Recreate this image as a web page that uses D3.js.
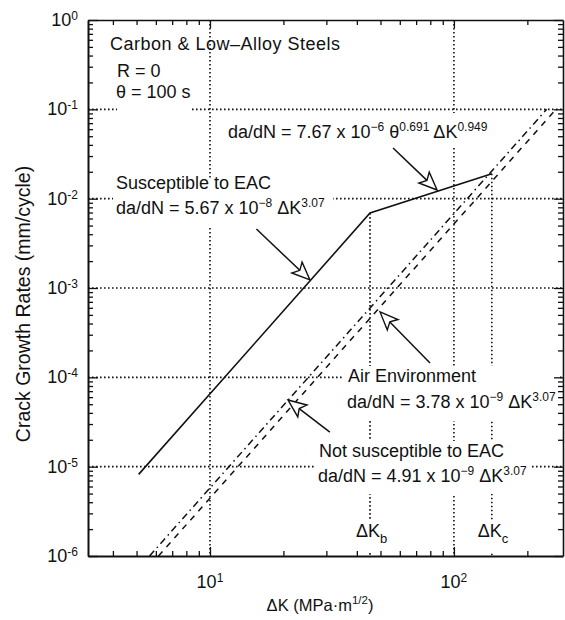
<!DOCTYPE html>
<html><head><meta charset="utf-8">
<script src="https://cdn.jsdelivr.net/npm/d3@7"></script>
<style>
body{margin:0;background:#fff}
text{font-family:"Liberation Sans",Arial,Helvetica,sans-serif;fill:#111}
</style>
</head><body>
<svg id="c" width="565" height="620"></svg>
<script>
// ---------------- data ----------------
const xDomain = [3.162, 280];          // ΔK (MPa·m^1/2)
const yDomain = [1e-6, 1];             // da/dN (mm/cycle)
const xMajorTicks = [10, 100];
const xMajorExps = ["1", "2"];
const yMajorTicks = [1, 1e-1, 1e-2, 1e-3, 1e-4, 1e-5, 1e-6];
const yMajorExps = ["0", "-1", "-2", "-3", "-4", "-5", "-6"];

// Susceptible to EAC (solid, with knee at ΔKb and end at ΔKc)
const eacK    = [5.1, 45.3, 143];
const eacRate = [8.2e-6, 6.9e-3, 0.019];
// Not susceptible to EAC (dash-dot)
const notK    = [5.65, 240];
const notRate = [1e-6, 0.1];
// Air environment (dashed)
const airK    = [6.15, 262];
const airRate = [1e-6, 0.1];
// ΔKb, ΔKc markers
const markerK    = [45.3, 143];
const markerTop  = [6.9e-3, 0.019];
const markerName = ["b", "c"];

// arrows (data coordinates: tail -> tip)
const arrowTailK    = [56.3, 15.5, 79.8, 31.0];
const arrowTailRate = [0.0369, 4.57e-3, 1.45e-4, 2.44e-5];
const arrowTipK     = [85.3, 25.7, 49.8, 20.9];
const arrowTipRate  = [0.0125, 1.23e-3, 5.4e-4, 5.57e-5];

// ---------------- layout ----------------
const L = 88, R = 563, T = 20, B = 556;
const svg = d3.select("#c");
const x = d3.scaleLog().domain(xDomain).range([L, R]);
const y = d3.scaleLog().domain(yDomain).range([B, T]);
const FS = 18, SUP = 12;

// minor tick values
const xMinor = [], yMinor = [];
[1, 10, 100].forEach(d => { for (let m = 2; m <= 9; m++) { const v = d * m; if (v > xDomain[0] && v < xDomain[1] && !xMajorTicks.includes(v)) xMinor.push(v); } });
[1e-6, 1e-5, 1e-4, 1e-3, 1e-2, 1e-1].forEach(d => { for (let m = 2; m <= 9; m++) yMinor.push(d * m); });

// ---------------- grid ----------------
const gGrid = svg.append("g").attr("stroke", "#111").attr("stroke-width", 1.6).attr("stroke-dasharray", "1.6,2.4");
gGrid.selectAll(".gy").data(yMajorTicks.slice(1, 6)).join("line")
  .attr("x1", L).attr("x2", R).attr("y1", d => y(d)).attr("y2", d => y(d));
gGrid.selectAll(".gx").data(xMajorTicks).join("line")
  .attr("y1", T).attr("y2", B).attr("x1", d => x(d)).attr("x2", d => x(d));
gGrid.selectAll(".mk").data(markerK).join("line")
  .attr("x1", d => x(d)).attr("x2", d => x(d))
  .attr("y1", (d, i) => y(markerTop[i])).attr("y2", B);

// ---------------- text masks ----------------
const masks = [
  [117, 58, 75, 54],
  [226, 113, 270, 34],
  [113, 178, 220, 48],
  [343, 366, 217, 55],
  [314, 441, 217, 53],
  [353, 520, 38, 32],
  [473, 520, 36, 32]
];
svg.append("g").selectAll("rect").data(masks).join("rect")
  .attr("x", d => d[0]).attr("y", d => d[1]).attr("width", d => d[2]).attr("height", d => d[3])
  .attr("fill", "#fff");

// ---------------- axes ----------------
function styleAxis(g, w) {
  g.select(".domain").attr("stroke", "#111").attr("stroke-width", w);
  g.selectAll(".tick line").attr("stroke", "#111").attr("stroke-width", 1.3);
  g.selectAll(".tick text").remove();
}
svg.append("g").attr("transform", `translate(0,${B})`)
  .call(d3.axisBottom(x).tickValues(xMajorTicks).tickSize(-9).tickSizeOuter(0).tickFormat(""))
  .call(g => styleAxis(g, 2));
svg.append("g").attr("transform", `translate(0,${B})`)
  .call(d3.axisBottom(x).tickValues(xMinor).tickSize(-5).tickSizeOuter(0).tickFormat(""))
  .call(g => { styleAxis(g, 2); g.select(".domain").remove(); });
svg.append("g").attr("transform", `translate(0,${T})`)
  .call(d3.axisTop(x).tickValues(xMajorTicks).tickSize(-8).tickSizeOuter(0).tickFormat(""))
  .call(g => styleAxis(g, 1.6));
svg.append("g").attr("transform", `translate(0,${T})`)
  .call(d3.axisTop(x).tickValues(xMinor).tickSize(-5).tickSizeOuter(0).tickFormat(""))
  .call(g => { styleAxis(g, 1.6); g.select(".domain").remove(); });
svg.append("g").attr("transform", `translate(${L},0)`)
  .call(d3.axisLeft(y).tickValues(yMajorTicks).tickSize(-10).tickSizeOuter(0).tickFormat(""))
  .call(g => styleAxis(g, 2));
svg.append("g").attr("transform", `translate(${L},0)`)
  .call(d3.axisLeft(y).tickValues(yMinor).tickSize(-5).tickSizeOuter(0).tickFormat(""))
  .call(g => { styleAxis(g, 2); g.select(".domain").remove(); });
svg.append("g").attr("transform", `translate(${R},0)`)
  .call(d3.axisRight(y).tickValues(yMajorTicks).tickSize(-9).tickSizeOuter(0).tickFormat(""))
  .call(g => styleAxis(g, 1.6));
svg.append("g").attr("transform", `translate(${R},0)`)
  .call(d3.axisRight(y).tickValues(yMinor).tickSize(-5).tickSizeOuter(0).tickFormat(""))
  .call(g => { styleAxis(g, 1.6); g.select(".domain").remove(); });

// tick labels
yMajorTicks.forEach((v, i) => {
  const t = svg.append("text").attr("x", 78).attr("y", y(v) + 6).attr("text-anchor", "end").attr("font-size", FS);
  t.append("tspan").text("10");
  t.append("tspan").attr("dy", -6).attr("font-size", SUP).text(yMajorExps[i]);
});
xMajorTicks.forEach((v, i) => {
  const t = svg.append("text").attr("x", x(v)).attr("y", 588).attr("text-anchor", "middle").attr("font-size", FS);
  t.append("tspan").text("10");
  t.append("tspan").attr("dy", -6).attr("font-size", SUP).text(xMajorExps[i]);
});

// axis titles
svg.append("text").attr("transform", "translate(30,304) rotate(-90)").attr("text-anchor", "middle")
  .attr("font-size", 19.5).text("Crack Growth Rates (mm/cycle)");
{
  const t = svg.append("text").attr("x", 320).attr("y", 611).attr("text-anchor", "middle").attr("font-size", 16.5);
  t.append("tspan").text("ΔK (MPa·m");
  t.append("tspan").attr("dy", -7).attr("font-size", 11.5).text("1/2");
  t.append("tspan").attr("dy", 7).text(")");
}

// ---------------- data lines ----------------
const line = d3.line().x(d => x(d[0])).y(d => y(d[1]));
svg.append("path").datum(eacK.map((k, i) => [k, eacRate[i]])).attr("d", line)
  .attr("fill", "none").attr("stroke", "#111").attr("stroke-width", 1.6);
svg.append("path").datum(notK.map((k, i) => [k, notRate[i]])).attr("d", line)
  .attr("fill", "none").attr("stroke", "#111").attr("stroke-width", 1.5).attr("stroke-dasharray", "7,4,1.5,4");
svg.append("path").datum(airK.map((k, i) => [k, airRate[i]])).attr("d", line)
  .attr("fill", "none").attr("stroke", "#111").attr("stroke-width", 1.5).attr("stroke-dasharray", "6,6");

// ---------------- arrows ----------------
arrowTipK.forEach((k, i) => {
  const x0 = x(arrowTailK[i]), y0 = y(arrowTailRate[i]);
  const x1 = x(k), y1 = y(arrowTipRate[i]);
  const dx = x1 - x0, dy = y1 - y0, len = Math.hypot(dx, dy);
  const ux = dx / len, uy = dy / len, hl = 18, hw = 7.5;
  const bx = x1 - ux * hl, by = y1 - uy * hl;
  svg.append("line").attr("x1", x0).attr("y1", y0).attr("x2", bx + ux * 4).attr("y2", by + uy * 4)
    .attr("stroke", "#111").attr("stroke-width", 1.5);
  svg.append("path")
    .attr("d", `M${x1},${y1}L${bx - uy * hw},${by + ux * hw}L${bx + ux * 4},${by + uy * 4}L${bx + uy * hw},${by - ux * hw}Z`)
    .attr("fill", "#fff").attr("stroke", "#111").attr("stroke-width", 1.4).attr("stroke-linejoin", "miter");
});

// ---------------- annotations ----------------
function rich(xp, yp, parts, extra) {
  const t = svg.append("text").attr("x", xp).attr("y", yp).attr("font-size", FS);
  if (extra) t.attr("letter-spacing", extra);
  let up = 0;
  parts.forEach(p => {
    const s = t.append("tspan").text(p[0]);
    if (p[1] === "sup") { s.attr("dy", -7 - up).attr("font-size", SUP); up = 7; }
    else if (p[1] === "sub") { s.attr("dy", 6 - up).attr("font-size", SUP + 1); up = -6; }
    else { if (up) s.attr("dy", up); up = 0; }
  });
}
rich(110, 50, [["Carbon & Low–Alloy Steels"]], 0.5);
rich(117, 77, [["R = 0"]]);
rich(116, 98, [["θ = 100 s"]]);
rich(228, 138, [["da/dN = 7.67 x 10"], ["−6", "sup"], [" θ"], ["0.691", "sup"], [" ΔK"], ["0.949", "sup"]]);
rich(116, 189, [["Susceptible to EAC"]]);
rich(116, 214, [["da/dN = 5.67 x 10"], ["−8", "sup"], [" ΔK"], ["3.07", "sup"]]);
rich(348, 382, [["Air Environment"]]);
rich(347, 408, [["da/dN = 3.78 x 10"], ["−9", "sup"], [" ΔK"], ["3.07", "sup"]]);
rich(319, 457, [["Not susceptible to EAC"]]);
rich(318, 482, [["da/dN = 4.91 x 10"], ["−9", "sup"], [" ΔK"], ["3.07", "sup"]]);
markerK.forEach((k, i) => {
  rich(x(k) - 14, 537, [["ΔK"], [markerName[i], "sub"]]);
});
</script>
</body></html>
